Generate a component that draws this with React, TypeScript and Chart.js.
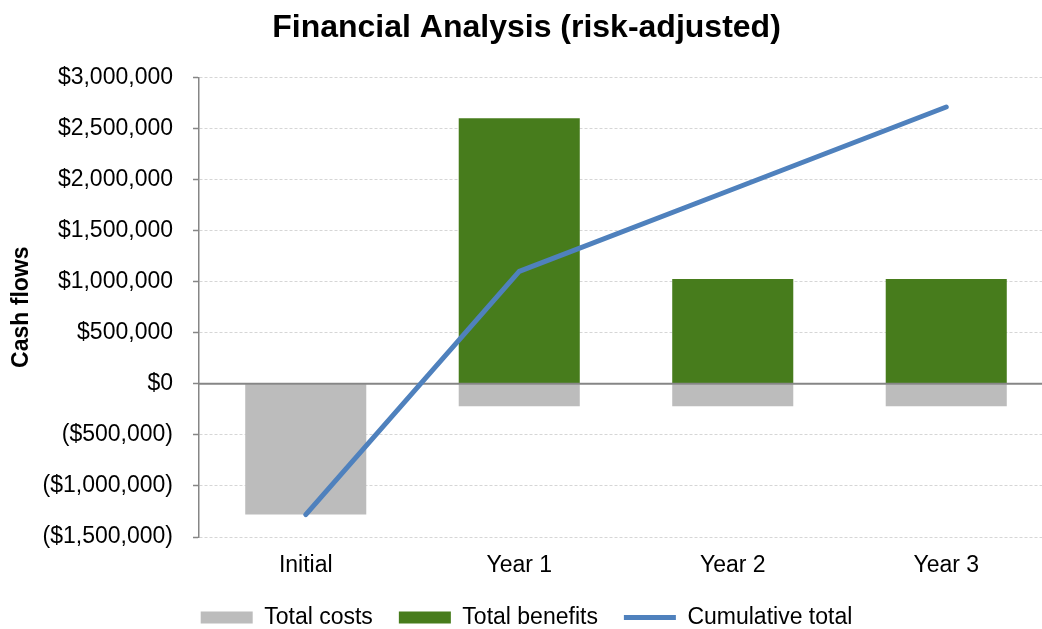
import React, { useEffect, useRef } from "react";
import { Chart, registerables } from "chart.js";

Chart.register(...registerables);

// ---- data ----
const categories = ["Initial", "Year 1", "Year 2", "Year 3"];
const totalCosts = [-1280000, -220000, -220000, -220000];
const totalBenefits = [0, 2600000, 1025000, 1025000];
const cumulativeTotal = [-1280000, 1100000, 1905000, 2710000];
const seriesNames = ["Total costs", "Total benefits", "Cumulative total"];
const yMin = -1500000;
const yMax = 3000000;
const yStep = 500000;
const chartTitle = "Financial Analysis (risk-adjusted)";
const yTitle = "Cash flows";

function withCommas(n: number): string {
  const s = String(Math.round(n));
  let out = "";
  for (let i = 0; i < s.length; i++) {
    if (i > 0 && (s.length - i) % 3 === 0) out += ",";
    out += s[i];
  }
  return out;
}

function fmtMoney(v: number): string {
  const s = "$" + withCommas(Math.abs(v));
  return v < 0 ? `(${s})` : s;
}

const zeroLinePlugin = {
  id: "zeroLine",
  beforeDatasetDraw(chart: any, args: any) {
    if (args.meta.type !== "line") return;
    const y = chart.scales.y.getPixelForValue(0);
    const { left, right } = chart.chartArea;
    const ctx = chart.ctx;
    ctx.save();
    ctx.strokeStyle = "#868686";
    ctx.lineWidth = 2;
    ctx.beginPath();
    ctx.moveTo(left, y);
    ctx.lineTo(right, y);
    ctx.stroke();
    ctx.restore();
  },
};

export default function App() {
  const ref = useRef<HTMLCanvasElement | null>(null);

  useEffect(() => {
    if (!ref.current) return;
    Chart.defaults.font.family = "'Liberation Sans', Arial, sans-serif";
    Chart.defaults.color = "#000";
    const chart = new Chart(ref.current, {
      type: "bar",
      data: {
        labels: categories,
        datasets: [
          {
            type: "bar",
            label: seriesNames[0],
            data: totalCosts,
            backgroundColor: "#bcbcbc",
            borderWidth: 0,
            stack: "bars",
            order: 1,
            pointStyle: "rect",
          } as any,
          {
            type: "bar",
            label: seriesNames[1],
            data: totalBenefits,
            backgroundColor: "#477c1c",
            borderWidth: 0,
            stack: "bars",
            order: 1,
            pointStyle: "rect",
          } as any,
          {
            type: "line",
            label: seriesNames[2],
            data: cumulativeTotal,
            borderColor: "#4f81bd",
            backgroundColor: "#4f81bd",
            borderWidth: 5,
            borderCapStyle: "round",
            borderJoinStyle: "round",
            pointRadius: 0,
            pointHoverRadius: 0,
            pointStyle: "line",
            tension: 0,
            fill: false,
            stack: "line",
            order: 0,
          } as any,
        ],
      },
      options: {
        animation: false,
        responsive: false,
        devicePixelRatio: 1,
        layout: { padding: { left: 0, right: 3, top: 0, bottom: 0 } },
        datasets: {
          bar: { categoryPercentage: 1, barPercentage: 0.567 },
        } as any,
        plugins: {
          title: {
            display: true,
            text: chartTitle,
            color: "#000",
            font: { size: 32, weight: "bold" },
            padding: { top: 9, bottom: 30 },
          },
          legend: {
            display: true,
            position: "bottom",
            labels: {
              usePointStyle: true,
              pointStyleWidth: 52,
              boxHeight: 12,
              padding: 26,
              color: "#000",
              font: { size: 23 },
              sort: (a: any, b: any) => a.datasetIndex - b.datasetIndex,
            },
          },
          tooltip: { enabled: false },
        },
        scales: {
          x: {
            stacked: true,
            grid: { display: false, drawTicks: false },
            border: { display: false },
            ticks: { padding: 15, font: { size: 23 }, color: "#000" },
            afterFit: (s: any) => {
              s.height = 43;
            },
          },
          y: {
            stacked: true,
            min: yMin,
            max: yMax,
            ticks: {
              stepSize: yStep,
              padding: 20,
              font: { size: 23 },
              color: "#000",
              callback: (v: any) => fmtMoney(Number(v)),
            },
            grid: {
              color: (ctx: any) =>
                ctx.tick && ctx.tick.value === 0 ? "rgba(0,0,0,0)" : "#d6d6d6",
              lineWidth: 1,
              drawTicks: true,
              tickLength: 6,
              tickColor: "#868686",
              tickWidth: 1.5,
              tickBorderDash: [],
            },
            border: { display: true, color: "#868686", width: 1.5, dash: [3, 2] },
            title: {
              display: true,
              text: yTitle,
              color: "#000",
              font: { size: 23, weight: "bold" },
              padding: { top: 8, bottom: 0 },
            },
            afterFit: (s: any) => {
              s.width = 199;
            },
          },
        },
      } as any,
      plugins: [zeroLinePlugin],
    });
    return () => chart.destroy();
  }, []);

  return (
    <div
      style={{
        position: "absolute",
        left: 0,
        top: 0,
        width: 1042,
        height: 629,
        overflow: "hidden",
        background: "#fff",
      }}
    >
      <canvas
        ref={ref}
        width={1056}
        height={639}
        style={{ display: "block", width: 1056, height: 639 }}
      />
    </div>
  );
}
